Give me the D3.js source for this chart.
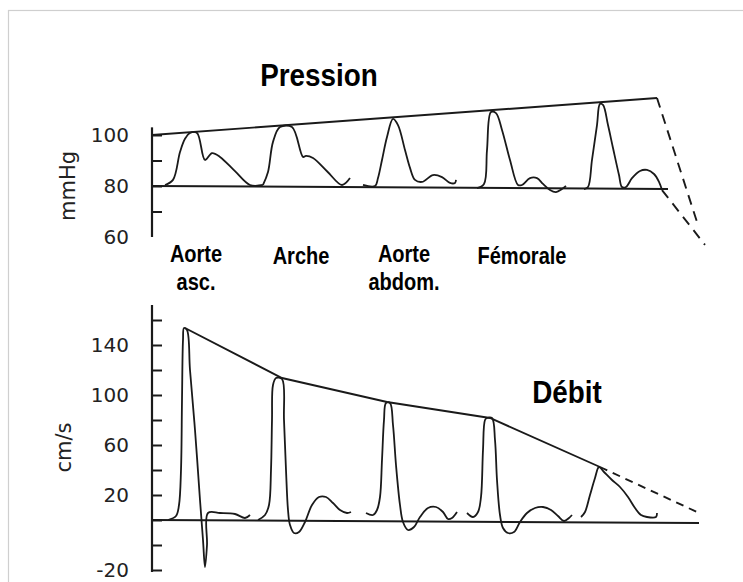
<!DOCTYPE html>
<html>
<head>
<meta charset="utf-8">
<script src="https://cdn.jsdelivr.net/npm/d3@7"></script>
<style>
  body { margin: 0; background: #fff; }
  svg { display: block; }
  .label { font-family: "Liberation Sans", Arial, sans-serif; font-weight: bold; fill: #000; }
  .tick text { font-family: "DejaVu Sans", sans-serif; font-size: 20px; fill: #222; }
  .unit { font-family: "DejaVu Sans", sans-serif; font-size: 21px; fill: #222; }
</style>
</head>
<body>
<div id="app"></div>
<script>
// ----- Data (x = position along the tree, arbitrary units) -----

// Pressure waves, mmHg
const pressAscending = [[3,80.4],[4.6,82.4],[6,93.3],[7,98.5],[8,100.8],[9.4,100.8],[11,90.2],[12.4,92.9],[14,91.4],[17,85.8],[20,80.4],[22.6,80.4]];
const pressArch = [[22.6,80.4],[23.6,85.5],[24.6,97.3],[26,103.1],[28.4,103.1],[30.6,91.4],[31.2,91.8],[32.6,91],[35.5,85.6],[38.4,80.4],[40,83.1]];
const pressAbdominal = [[42.6,80.4],[45,80],[45.6,83.1],[46.4,90.2],[47.4,99.2],[48.6,106.3],[49.6,103.9],[51,94.1],[52,87.1],[53,82.4],[54.4,81.6],[56.6,84.3],[58.4,83.5],[60,81.2],[61,81.2],[61.2,82.4]];
const pressFemoral = [[65.4,79.2],[66.8,80.8],[67.4,94.1],[68.2,109],[69.2,108.6],[70.4,102],[72,90.2],[73.6,80.4],[74.4,80.4],[76,83.1],[77.4,83.1],[78.6,80.8],[80,78.4],[81.2,77.6],[82.4,78.8],[83.2,80]];
const pressDistal = [[86.8,78.8],[87.6,79.6],[88.4,90.2],[89.4,103.9],[90,112.2],[90.6,111.8],[91.6,103.9],[92.6,94.9],[93.8,84.3],[94.4,79.6],[95.2,79.6],[96.4,83.1],[98,85.9],[99.4,86.3],[100.8,84.7],[101.8,81.6],[102.4,78.4]];
const pressEnvelope = [[0.4,100],[101.4,114.5]];
const pressBaseline = [[0.4,80],[103.6,78.8]];
const pressDashA = [[101.4,114.5],[109.4,65.9]];
const pressDashB = [[102.4,78.4],[111,56.9]];

// Flow velocity waves, cm/s
const flowAscending = [[3.6,0],[5.2,3.2],[5.8,12],[6.2,40],[6.4,96],[6.6,144],[6.8,153.6],[7.4,152],[8,120],[9,72],[10,16],[10.6,-16],[11,-37.6],[11.4,-20],[11.6,5.6],[14,5.6],[17,4.8],[19,1.6],[20,4]];
const flowArch = [[21.6,0],[23,4],[23.8,12],[24.2,40],[24.4,80],[24.6,108],[25.2,113.6],[26.4,112.8],[26.8,80],[27.2,40],[27.6,8],[28,-4],[28.8,-10.4],[29.8,-9.6],[31,-1.6],[32.4,12],[33.8,18.4],[35.2,18.4],[36.6,13.6],[38,8],[39.4,5.6],[40.2,6.4]];
const flowAbdominal = [[43.2,5.6],[44.6,4],[45.4,8],[46,18.4],[46.4,48],[46.8,80],[47.2,93.6],[48,93.6],[48.6,76],[49.2,44],[50,12],[50.6,-1.6],[51.6,-8],[52.8,-5.6],[54,2.4],[55.6,9.6],[57.2,10.4],[58.6,6.4],[59.6,0.8],[60.4,1.6],[61.4,6.4]];
const flowFemoral = [[63.4,5.6],[64.6,2.4],[65.6,6.4],[66.2,18.4],[66.6,56],[67,80],[67.4,81.6],[68.4,81.6],[69,64],[69.4,32],[70,4],[70.6,-6.4],[71.6,-10.4],[72.8,-9.6],[74,-1.6],[75.4,5.6],[77,9.6],[78.6,10.4],[80.2,8],[81.6,3.2],[82.8,-0.8],[83.8,1.6],[84.4,4]];
const flowDistal = [[86.2,2.4],[87,6.4],[88,20],[89,33.6],[89.8,42.4],[90.8,38.4],[92.4,32],[94,26.4],[95.6,18.4],[97,9.6],[98.2,4],[99.4,2.4],[101.2,2.4],[101.4,5.6]];
const flowEnvelope = [[7,153.6],[26.4,113.6],[47.4,94.4],[68,81.6],[90,42.4]];
const flowDash = [[90,42.4],[109.4,6.4]];
const flowBaseline = [[0.6,0],[109.8,-2.4]];

// Axes
const pressAxisExtent = [60, 103];
const pressTicks = [100, 90, 80, 70];
const pressLabelTicks = [100, 80, 60];
const flowAxisExtent = [-41.6, 172];
const flowTicks = [160, 140, 120, 100, 80, 60, 40, 20, 0, -20, -40];
const flowLabelTicks = [140, 100, 60, 20, -40];
const flowLabelText = ["140", "100", "60", "20", "-20"];

// Site labels
const sites = [
    { x: 9.2, lines: ["Aorte", "asc."] },
    { x: 30.2, lines: ["Arche"] },
    { x: 50.8, lines: ["Aorte", "abdom."] },
    { x: 74.4, lines: ["Fémorale"] }
];

// ----- Chart -----

const W = 743, H = 582;
const ink = "#1a1a1a";
const narrow = 0.87; // condensed bold lettering of the original

const svg = d3.select("#app").append("svg")
    .attr("width", W)
    .attr("height", H);

// scanned frame
svg.append("rect")
    .attr("x", 8.5).attr("y", 10.5)
    .attr("width", 800).attr("height", 700)
    .attr("fill", "none")
    .attr("stroke", "#cfcfcf")
    .attr("stroke-width", 1.2);

const x = d3.scaleLinear().domain([0, 112]).range([150, 710]);
const yP = d3.scaleLinear().domain([60, 100]).range([237, 135]);
const yF = d3.scaleLinear().domain([0, 160]).range([520, 320]);

function drawPanel(y, waves, solid, dashed, baseline, dash) {
    const smooth = d3.line().x(d => x(d[0])).y(d => y(d[1])).curve(d3.curveCatmullRom.alpha(0.5));
    const straight = d3.line().x(d => x(d[0])).y(d => y(d[1]));

    const g = svg.append("g");
    waves.forEach(w => {
        g.append("path")
            .attr("d", smooth(w))
            .attr("fill", "none")
            .attr("stroke", ink)
            .attr("stroke-width", 1.8)
            .attr("stroke-linejoin", "round");
    });
    g.append("path")
        .attr("d", straight(baseline))
        .attr("fill", "none")
        .attr("stroke", ink)
        .attr("stroke-width", 2);
    g.append("path")
        .attr("d", straight(solid))
        .attr("fill", "none")
        .attr("stroke", ink)
        .attr("stroke-width", 1.9);
    dashed.forEach(dl => {
        g.append("path")
            .attr("d", straight(dl))
            .attr("fill", "none")
            .attr("stroke", ink)
            .attr("stroke-width", 1.9)
            .attr("stroke-dasharray", dash);
    });
}

drawPanel(yP, [pressAscending, pressArch, pressAbdominal, pressFemoral, pressDistal],
    pressEnvelope, [pressDashA, pressDashB], pressBaseline, "10,7");
drawPanel(yF, [flowAscending, flowArch, flowAbdominal, flowFemoral, flowDistal],
    flowEnvelope, [flowDash], flowBaseline, "8,6");

// y axes: inward tick marks, labels on the left
function drawAxis(y, extent, ticks, labelTicks, fmt) {
    const ax = x(0.4);
    svg.append("line")
        .attr("x1", ax).attr("x2", ax)
        .attr("y1", y(extent[0])).attr("y2", y(extent[1]))
        .attr("stroke", ink)
        .attr("stroke-width", 2.2);

    svg.append("g")
        .attr("transform", `translate(${ax},0)`)
        .call(d3.axisLeft(y).tickValues(ticks).tickSizeInner(-10).tickSizeOuter(0).tickFormat(""))
        .call(g => g.select(".domain").remove())
        .call(g => g.selectAll(".tick line").attr("stroke", ink).attr("stroke-width", 2));

    svg.append("g")
        .attr("transform", `translate(${ax},0)`)
        .call(d3.axisLeft(y).tickValues(labelTicks).tickSize(0).tickPadding(23).tickFormat(fmt))
        .call(g => g.select(".domain").remove())
        .call(g => g.selectAll(".tick text").attr("font-size", null).attr("font-family", null));
}

drawAxis(yP, pressAxisExtent, pressTicks, pressLabelTicks, d => d);
drawAxis(yF, flowAxisExtent, flowTicks, flowLabelTicks, (d, i) => flowLabelText[i]);

// unit labels
svg.append("text")
    .attr("class", "unit")
    .attr("transform", `translate(68,${yP(80)}) rotate(-90)`)
    .attr("text-anchor", "middle")
    .attr("dominant-baseline", "central")
    .text("mmHg");
svg.append("text")
    .attr("class", "unit")
    .attr("transform", `translate(64,${yF(58)}) rotate(-90)`)
    .attr("text-anchor", "middle")
    .attr("dominant-baseline", "central")
    .text("cm/s");

function label(text, px, py, size) {
    svg.append("text")
        .attr("class", "label")
        .attr("transform", `translate(${px},${py}) scale(${narrow},1)`)
        .attr("text-anchor", "middle")
        .attr("font-size", size)
        .text(text);
}

// titles
label("Pression", 319, 86, 32);
label("Débit", 567, 403, 32);

// site names
sites.forEach(s => {
    s.lines.forEach((t, i) => {
        label(t, x(s.x), (s.lines.length > 1 ? 262 : 264) + i * 28, 23);
    });
});
</script>
</body>
</html>
